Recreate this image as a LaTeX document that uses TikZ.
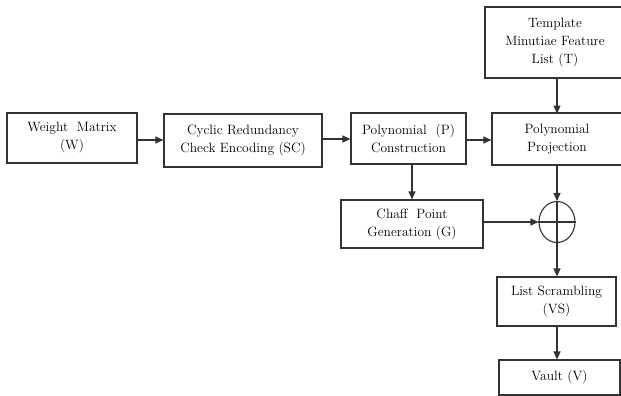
\documentclass[tikz,border=0pt]{standalone}
\usetikzlibrary{arrows.meta,shapes.geometric}
\begin{document}
\begin{tikzpicture}[x=1pt,y=-1pt,
  lw/.style={draw=black!80,line width=1.1pt},
  box/.style={lw,align=center,inner sep=0pt,
    font=\fontsize{13.5}{18}\selectfont},
  arr/.style={lw,-{Triangle[length=8pt,width=7pt]}}]
\useasboundingbox (0,0) rectangle (621,396);
\node[box,minimum width=130pt,minimum height=50pt] (W) at (72,138) {Weight\ \ Matrix\\(W)};
\node[box,minimum width=158pt,minimum height=53pt] (C) at (243,140.5) {Cyclic Redundancy\\Check Encoding (SC)};
\node[box,minimum width=115pt,minimum height=51pt] (P) at (408.5,138.5) {Polynomial\ \ (P)\\Construction};
\node[box,draw=none,outer sep=0pt,minimum width=130pt,minimum height=52pt] (R) at (557,139) {Polynomial\\Projection};
\draw[lw] (R.south west) rectangle ([xshift=12pt]R.north east);
\node[box,draw=none,outer sep=0pt,minimum width=140pt,minimum height=71pt] (T) at (555,42.5) {Template\\Minutiae Feature\\List (T)};
\draw[lw] (T.south west) rectangle ([xshift=12pt]T.north east);
\node[box,minimum width=142pt,minimum height=48pt] (G) at (412,224) {Chaff\ \ Point\\Generation (G)};
\node[lw,ellipse,minimum width=36pt,minimum height=41pt,inner sep=0pt] (E) at (557,222) {};
\draw[lw] (E.north) -- (E.south) (E.west) -- (E.east);
\node[box,minimum width=119pt,minimum height=49pt] (L) at (556.5,301.5) {List Scrambling\\(VS)};
\node[box,minimum width=121pt,minimum height=35pt] (V) at (559.5,377.5) {Vault (V)};
\coordinate (a1) at (137,140);
\coordinate (a2) at (322,139);
\coordinate (a3) at (466,140);
\draw[arr] (a1) -- (a1 -| C.west);
\draw[arr] (a2) -- (a2 -| P.west);
\draw[arr] (a3) -- ([xshift=-0.55pt]a3 -| R.west);
\draw[arr] ([yshift=0.55pt]T.south -| E.north) -- ([yshift=-0.55pt]R.north -| E.north);
\draw[arr] ([yshift=0.55pt]R.south -| E.north) -- (E.north);
\draw[arr] (P.south -| G.north) -- (G.north);
\draw[arr] (G.east |- E.west) -- (E.west);
\draw[arr] (E.south) -- (L.north -| E.south);
\draw[arr] (L.south -| E.south) -- (V.north -| E.south);
\end{tikzpicture}
\end{document}
